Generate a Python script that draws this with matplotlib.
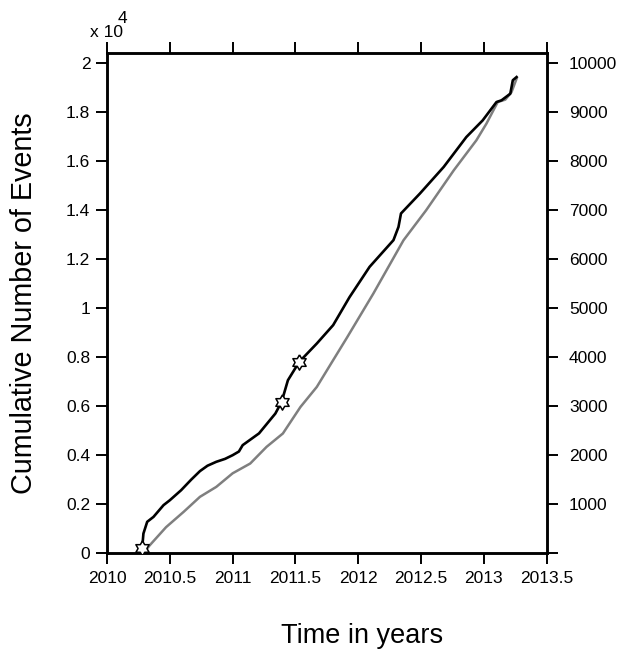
import numpy as np
import matplotlib
matplotlib.use("Agg")
import matplotlib.pyplot as plt

plt.rcParams['font.family'] = ['Liberation Sans', 'DejaVu Sans']

# Cumulative event count, full catalogue (left axis, units of 1e4)
t_all = [2010.275, 2010.28, 2010.29, 2010.32, 2010.37, 2010.45, 2010.50, 2010.59,
         2010.67, 2010.74, 2010.80, 2010.87, 2010.94, 2011.00, 2011.05, 2011.08,
         2011.21, 2011.34, 2011.39, 2011.44, 2011.53, 2011.67, 2011.80, 2011.93,
         2012.09, 2012.28, 2012.32, 2012.34, 2012.49, 2012.68, 2012.86, 2012.99,
         2013.10, 2013.14, 2013.21, 2013.23, 2013.26]
n_all = [0.0, 0.02, 0.08, 0.128, 0.148, 0.196, 0.216, 0.257,
         0.300, 0.335, 0.357, 0.373, 0.385, 0.400, 0.415, 0.441,
         0.489, 0.570, 0.618, 0.706, 0.781, 0.856, 0.931, 1.045,
         1.169, 1.278, 1.332, 1.387, 1.468, 1.577, 1.699, 1.767,
         1.842, 1.849, 1.876, 1.931, 1.944]

# Cumulative event count, second catalogue (right axis)
t_sub = [2010.29, 2010.30, 2010.34, 2010.47, 2010.61, 2010.74, 2010.87, 2011.00,
         2011.14, 2011.27, 2011.40, 2011.54, 2011.67, 2011.80, 2011.91, 2012.12,
         2012.36, 2012.54, 2012.76, 2012.94, 2013.02, 2013.11, 2013.17, 2013.22,
         2013.26]
n_sub = [0, 30, 160, 530, 843, 1150, 1353, 1630,
         1830, 2170, 2443, 2985, 3394, 3940, 4400, 5300,
         6388, 7000, 7816, 8429, 8769, 9210, 9259, 9414,
         9688]

# Marked events on the full-catalogue curve
t_star = [2010.28, 2011.39, 2011.53]
n_star = [0.02, 0.618, 0.781]

x_ticks = [2010, 2010.5, 2011, 2011.5, 2012, 2012.5, 2013, 2013.5]
x_labels = ['2010', '2010.5', '2011', '2011.5', '2012', '2012.5', '2013', '2013.5']
y_ticks = [0, 0.2, 0.4, 0.6, 0.8, 1.0, 1.2, 1.4, 1.6, 1.8, 2.0]
y_labels = ['0', '0.2', '0.4', '0.6', '0.8', '1', '1.2', '1.4', '1.6', '1.8', '2']
r_ticks = [0, 1000, 2000, 3000, 4000, 5000, 6000, 7000, 8000, 9000, 10000]
r_labels = ['', '1000', '2000', '3000', '4000', '5000', '6000', '7000', '8000', '9000', '10000']

# six-pointed star marker
ang_out = np.deg2rad(90 + 60 * np.arange(6))
ang_in = np.deg2rad(120 + 60 * np.arange(6))
verts = []
for a_o, a_i in zip(ang_out, ang_in):
    verts.append((np.cos(a_o), np.sin(a_o)))
    verts.append((np.cos(a_i) / np.sqrt(3), np.sin(a_i) / np.sqrt(3)))
verts.append(verts[0])

fig = plt.figure(figsize=(6.22, 6.5), dpi=100)
ax = fig.add_axes([0.172, 0.149, 0.707, 0.769])
ax2 = ax.twinx()

ymax = 2.041
ax.set_xlim(2010, 2013.5)
ax.set_ylim(0, ymax)
ax2.set_ylim(0, ymax * 1e4 / 2)

ax2.plot(t_sub, n_sub, color='#7f7f7f', lw=1.8, zorder=2)
ax.plot(t_all, n_all, color='black', lw=1.9, zorder=3)
ax.plot(t_star, n_star, linestyle='none', marker=verts, markersize=11,
        markerfacecolor='white', markeredgecolor='black', markeredgewidth=1.1,
        zorder=4)
ax.set_zorder(ax2.get_zorder() + 1)
ax.patch.set_visible(False)

tick_kw = dict(direction='out', length=8, width=1.4, labelsize=12.5, pad=4)
ax.set_xticks(x_ticks)
ax.set_xticklabels(x_labels)
ax.set_yticks(y_ticks)
ax.set_yticklabels(y_labels)
ax.tick_params(axis='x', top=True, labeltop=False, **tick_kw)
ax.tick_params(axis='y', **tick_kw)
ax.tick_params(axis='x', pad=5)
ax2.set_yticks(r_ticks)
ax2.set_yticklabels(r_labels)
ax2.tick_params(axis='y', **tick_kw)
ax2.tick_params(axis='y', pad=8)

for a in (ax, ax2):
    for s in a.spines.values():
        s.set_linewidth(1.8)

ax.set_ylabel('Cumulative Number of Events', fontsize=20.7, labelpad=20)
ax.set_xlabel('Time in years', fontsize=19.5, labelpad=26.5, x=0.58)

fig.text(0.198, 0.943, 'x 10', fontsize=12.5, ha='right', va='baseline')
fig.text(0.189, 0.965, '4', fontsize=12.5, ha='left', va='baseline')

fig.savefig('out.png', dpi=100, facecolor='white')
